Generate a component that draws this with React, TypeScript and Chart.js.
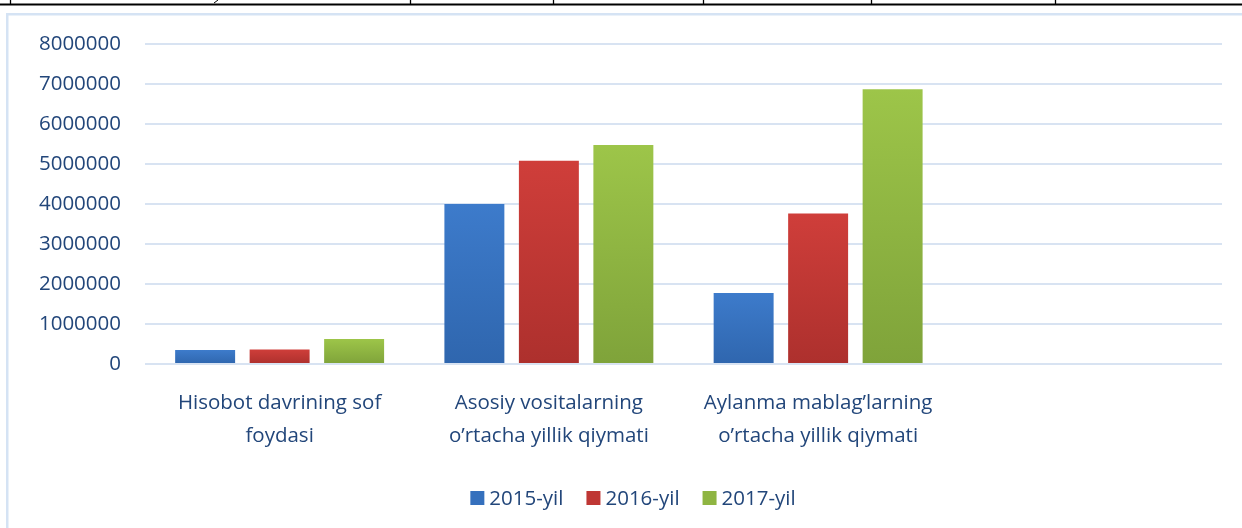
import React, { useEffect, useRef } from 'react';
import { Chart, registerables } from 'chart.js';

Chart.register(...registerables);

// ---- data ----
const categories: string[][] = [
  ['Hisobot davrining sof', 'foydasi'],
  ['Asosiy vositalarning', 'o’rtacha yillik qiymati'],
  ['Aylanma mablag’larning', 'o’rtacha yillik qiymati'],
  [''],
];
const seriesNames: string[] = ['2015-yil', '2016-yil', '2017-yil'];
const values2015: number[] = [350000, 4000000, 1775000];
const values2016: number[] = [365000, 5080000, 3760000];
const values2017: number[] = [625000, 5475000, 6870000];
const yMin = 0;
const yMax = 8000000;
const yStep = 1000000;

// ---- styles ----
const FONT = "'Open Sans', 'Liberation Sans', sans-serif";
const FONT_SIZE = 20.5;
const TEXT_COLOR = '#22467a';
const GRID_COLOR = '#d8e3f2';
const topColors = ['#3d7bcb', '#cf3e3a', '#9dc549'];
const bottomColors = ['#2f66ae', '#ad302d', '#7fa33a'];
const legendColors = ['#3570bd', '#bf3734', '#8fb542'];

function makeGradient(ctx: any, i: number) {
  const chart = ctx.chart;
  const area = chart.chartArea;
  if (!area || ctx.raw == null) return topColors[i];
  const y = chart.scales.y;
  const top = y.getPixelForValue(ctx.raw);
  const bottom = y.getPixelForValue(0);
  if (!isFinite(top) || !isFinite(bottom) || bottom - top < 1) return topColors[i];
  const g = chart.ctx.createLinearGradient(0, top, 0, bottom);
  g.addColorStop(0, topColors[i]);
  g.addColorStop(1, bottomColors[i]);
  return g;
}

const decorPlugin = {
  id: 'decor',
  beforeDraw(chart: any) {
    const c = chart.ctx;
    c.save();
    c.fillStyle = '#ffffff';
    c.fillRect(0, 0, chart.width, chart.height);
    // chart frame (light blue)
    c.strokeStyle = '#d5e3f4';
    c.lineWidth = 2.5;
    c.strokeRect(7.25, 14.25, chart.width + 40, chart.height + 40);
    // table fragment at top
    c.strokeStyle = '#000000';
    c.lineWidth = 2;
    c.beginPath();
    c.moveTo(0, 4.5);
    c.lineTo(chart.width, 4.5);
    c.stroke();
    c.lineWidth = 1.3;
    [10, 410, 553, 703, 871, 1055].forEach((x) => {
      c.beginPath();
      c.moveTo(x + 0.5, 0);
      c.lineTo(x + 0.5, 4);
      c.stroke();
    });
    c.lineWidth = 1;
    c.beginPath();
    c.moveTo(218, 0);
    c.lineTo(214, 3);
    c.stroke();
    c.restore();
  },
};

const legendPlugin = {
  id: 'customLegend',
  afterDraw(chart: any) {
    const c = chart.ctx;
    c.save();
    c.font = `${FONT_SIZE}px ${FONT}`;
    c.textBaseline = 'middle';
    c.textAlign = 'left';
    const box = 14;
    const gapText = 5;
    const gapItem = 23;
    const names = chart.data.datasets.map((d: any) => d.label);
    const widths = names.map((n: string) => c.measureText(n).width);
    let total = 0;
    widths.forEach((w: number, i: number) => {
      total += box + gapText + w;
      if (i < widths.length - 1) total += gapItem;
    });
    const cx = 633;
    const cy = 498;
    let x = cx - total / 2;
    names.forEach((n: string, i: number) => {
      c.fillStyle = legendColors[i];
      c.fillRect(x, cy - box / 2, box, box);
      x += box + gapText;
      c.fillStyle = TEXT_COLOR;
      c.fillText(n, x, cy + 1);
      x += widths[i] + gapItem;
    });
    c.restore();
  },
};

export default function App() {
  const ref = useRef<HTMLCanvasElement | null>(null);

  useEffect(() => {
    if (!ref.current) return;
    const seriesValues = [values2015, values2016, values2017];
    const chart = new Chart(ref.current, {
      type: 'bar',
      data: {
        labels: categories,
        datasets: seriesNames.map((name, i) => ({
          label: name,
          data: seriesValues[i],
          backgroundColor: (ctx: any) => makeGradient(ctx, i),
          borderWidth: 0,
          categoryPercentage: 0.83,
          barPercentage: 0.805,
        })),
      },
      options: {
        responsive: false,
        animation: false,
        devicePixelRatio: 1,
        layout: { padding: { top: 44, left: 0, right: 20, bottom: 0 } },
        plugins: {
          legend: { display: false },
          tooltip: { enabled: false },
        },
        scales: {
          x: {
            grid: { display: false, drawTicks: false },
            border: { display: false },
            ticks: {
              color: TEXT_COLOR,
              font: { family: FONT, size: FONT_SIZE, lineHeight: 33 / FONT_SIZE },
              padding: 23,
              maxRotation: 0,
              autoSkip: false,
            },
            afterFit: (scale: any) => {
              scale.height = 164;
            },
          },
          y: {
            min: yMin,
            max: yMax,
            grid: { color: GRID_COLOR, lineWidth: 2, drawTicks: false },
            border: { display: false },
            ticks: {
              stepSize: yStep,
              color: TEXT_COLOR,
              font: { family: FONT, size: FONT_SIZE },
              padding: 24,
              callback: (v: any) => String(v),
            },
            afterFit: (scale: any) => {
              scale.width = 145;
            },
          },
        },
      },
      plugins: [decorPlugin, legendPlugin],
    });
    return () => chart.destroy();
  }, []);

  return (
    <div style={{ position: 'absolute', left: 0, top: 0, width: 1242, height: 528, overflow: 'hidden', background: '#fff' }}>
      <canvas ref={ref} width={1242} height={528} style={{ display: 'block' }} />
    </div>
  );
}
